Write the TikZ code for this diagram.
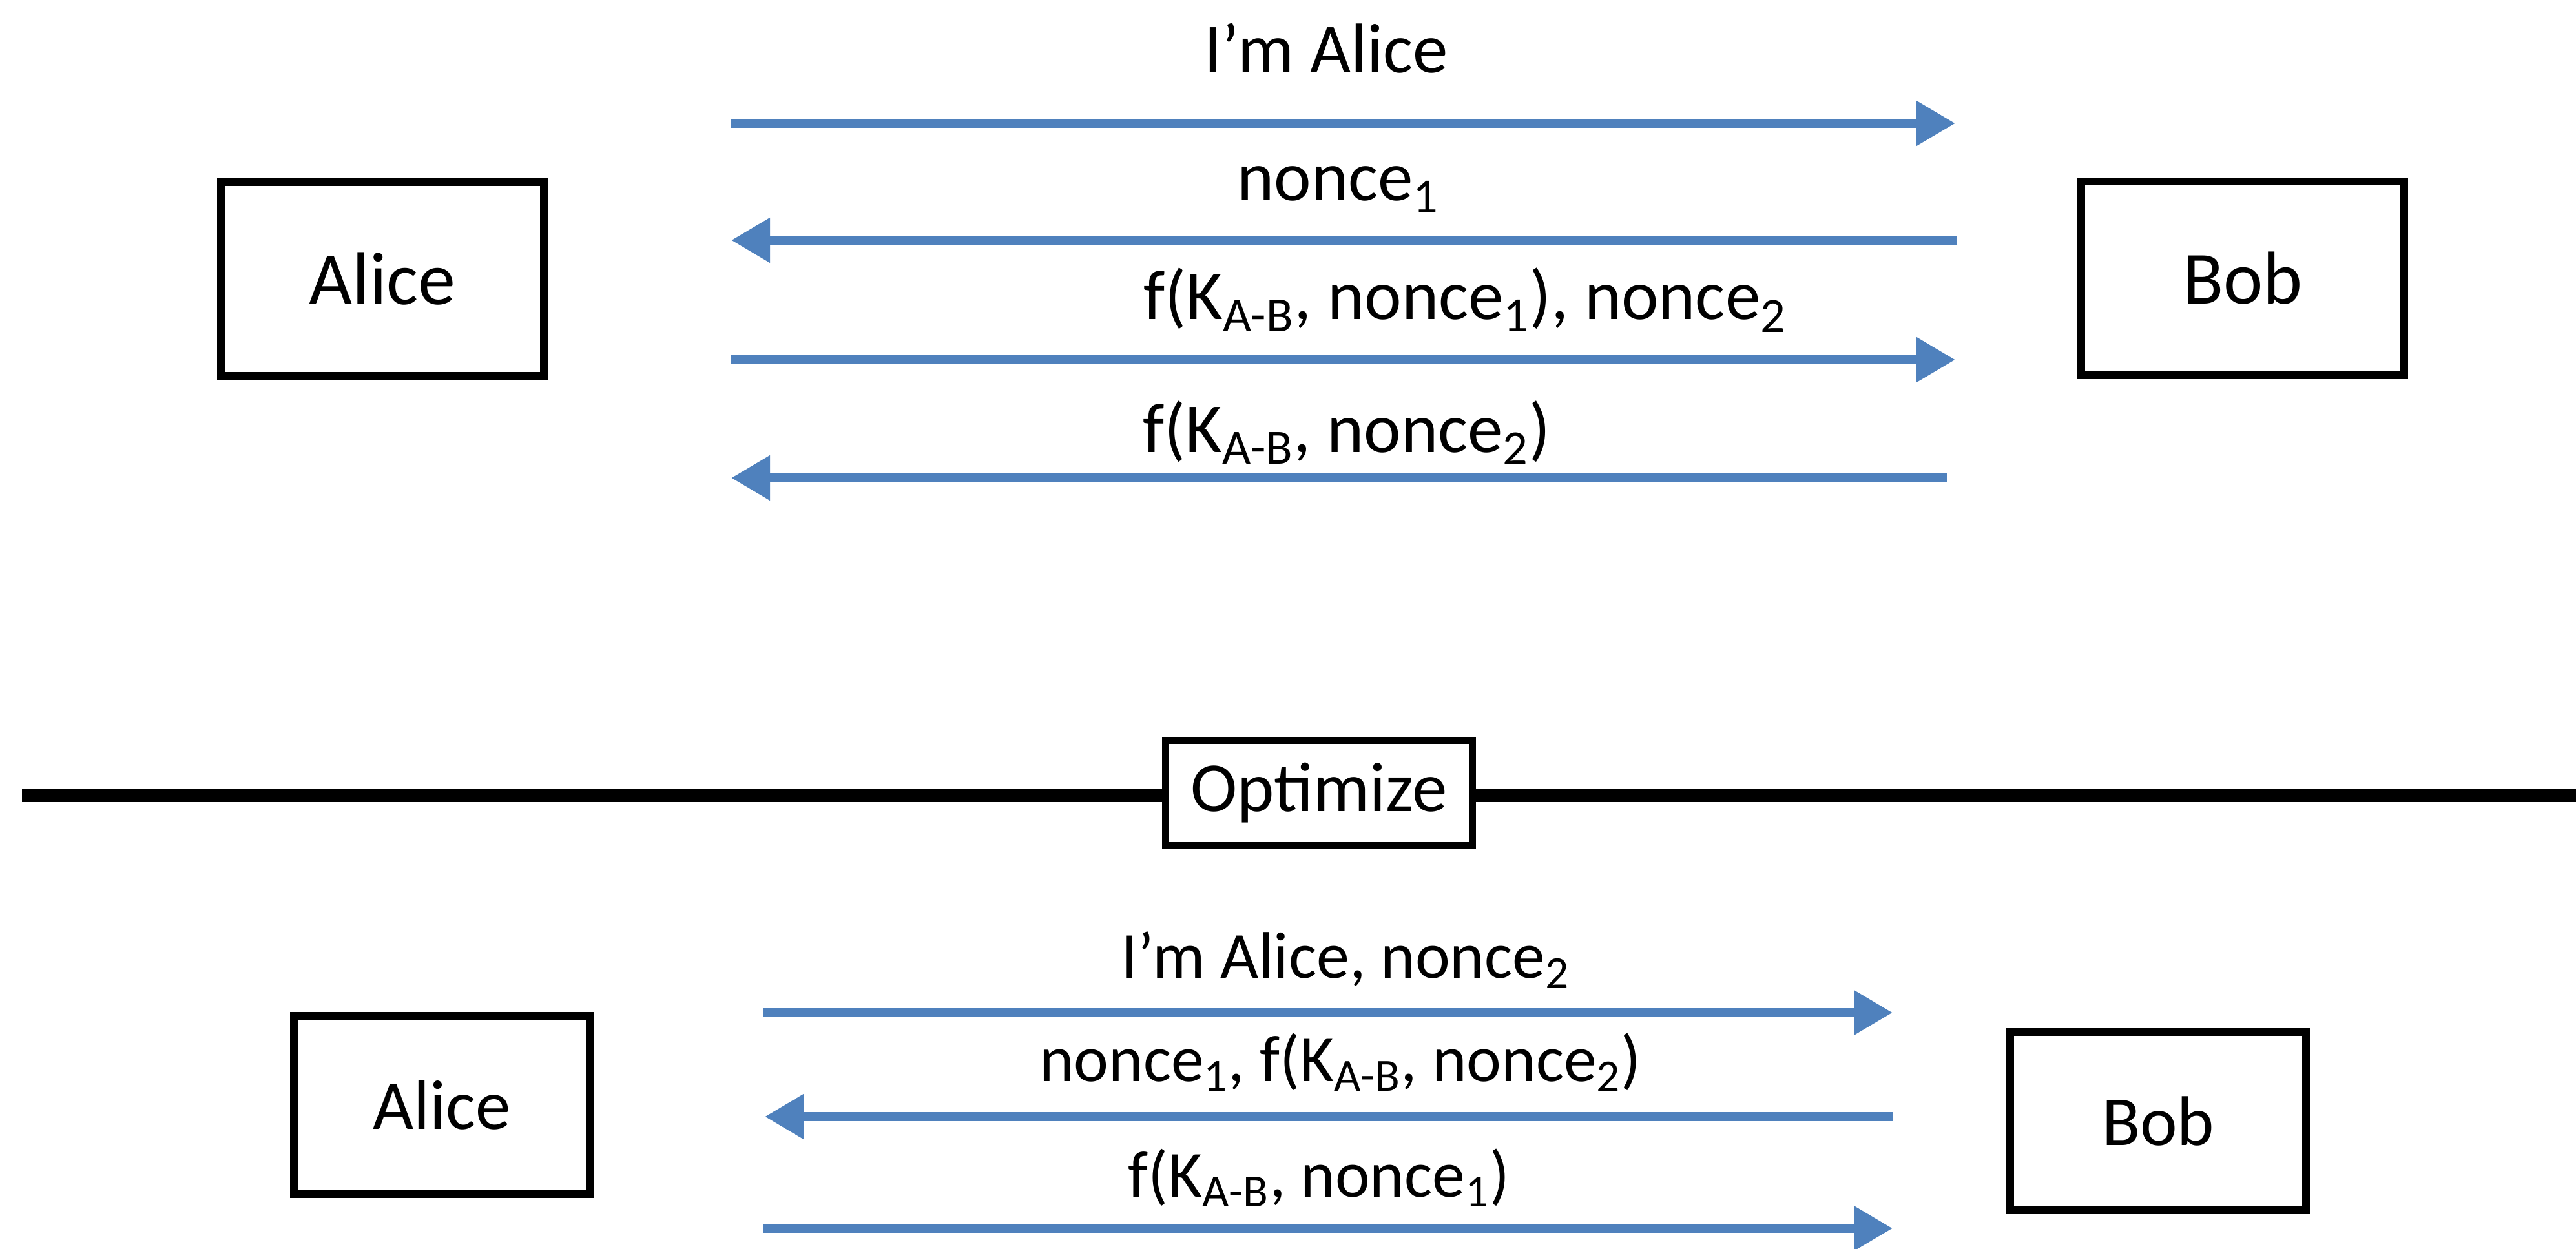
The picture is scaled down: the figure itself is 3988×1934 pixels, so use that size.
\documentclass[tikz,border=0pt]{standalone}
\usepackage{fontspec}
\setmainfont{Carlito}
\usetikzlibrary{arrows.meta,positioning}
\definecolor{msgblue}{RGB}{79,129,189}
\newcommand{\noncesub}[1]{nonce\textsubscript{#1}}
\newcommand{\kab}{K\textsubscript{A-B}}

\begin{document}
\begin{tikzpicture}[x=0.01cm,y=-0.01cm,
  party/.style={draw,line width=0.12cm,inner sep=0pt,minimum width=5cm,minimum height=3cm,
    font=\fontsize{33}{40}\selectfont},
  smallparty/.style={party,minimum width=4.58cm,minimum height=2.75cm,
    font=\fontsize{31}{37}\selectfont},
  msg/.style={draw=msgblue,line width=0.14cm,-{Triangle[length=0.6cm,width=0.66cm]}},
  lbl/.style={anchor=base,inner sep=0pt,font=\fontsize{31}{37}\selectfont},
  smalllbl/.style={lbl,font=\fontsize{29}{35}\selectfont}]
\useasboundingbox (0,0) rectangle (3988,1934);

% before
\node[party] (alice) at (592,432) {Alice};
\node[party] (bob) at (3472,431) {Bob};

\coordinate (a1s) at (1132,191);  \coordinate (a1e) at (3027,191);
\coordinate (a2s) at (3030,372);  \coordinate (a2e) at (1132,372);
\coordinate (a3s) at (1132,557);  \coordinate (a3e) at (3027,557);
\coordinate (a4s) at (3014,740);  \coordinate (a4e) at (1132,740);
\draw[msg] (a1s) -- (a1e);
\draw[msg] (a2s) -- (a2e);
\draw[msg] (a3s) -- (a3e);
\draw[msg] (a4s) -- (a4e);
\node[lbl] (l1) at (2053,113) {I’m Alice};
\node[lbl] (l2) at (2072,311) {\noncesub{1}};
\node[lbl] (l3) at (2268,495) {f(\kab, \noncesub{1}), \noncesub{2}};
\node[lbl] (l4) at (2085,700) {f(\kab, \noncesub{2})};

% divider
\node[draw,fill=white,line width=0.11cm,inner sep=0pt,minimum width=4.75cm,minimum height=1.63cm,
  font=\fontsize{31}{37}\selectfont] (opt) at (2042,1228) {Optimize};
\coordinate (sepl) at (34,1232);
\coordinate (sepr) at (3988,1232);
\draw[line width=0.2cm] (sepl) -- (sepl -| opt.west);
\draw[line width=0.2cm] (sepr -| opt.east) -- (sepr);

% after
\node[smallparty] (alice2) at (684,1711) {Alice};
\node[smallparty] (bob2) at (3341,1736) {Bob};

\coordinate (b1s) at (1182,1568); \coordinate (b1e) at (2930,1568);
\coordinate (b2s) at (2930,1729); \coordinate (b2e) at (1184,1729);
\coordinate (b3s) at (1182,1902); \coordinate (b3e) at (2930,1902);
\draw[msg] (b1s) -- (b1e);
\draw[msg] (b2s) -- (b2e);
\draw[msg] (b3s) -- (b3e);
\node[smalllbl] (m1) at (2083,1514) {I’m Alice, \noncesub{2}};
\node[smalllbl] (m2) at (2075,1674) {\noncesub{1}, f(\kab, \noncesub{2})};
\node[smalllbl] (m3) at (2042,1853) {f(\kab, \noncesub{1})};
\end{tikzpicture}
\end{document}
